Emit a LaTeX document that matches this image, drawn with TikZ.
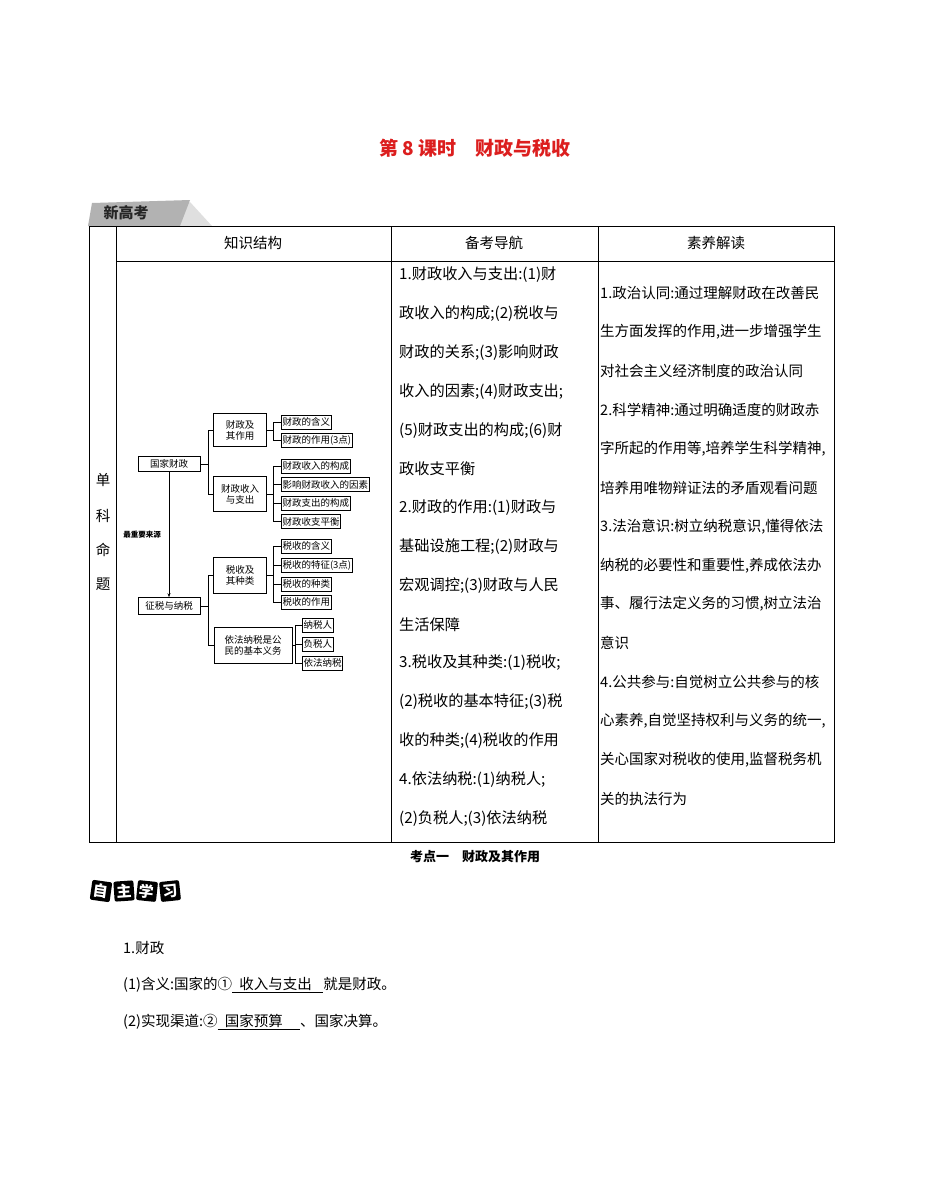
\documentclass[tikz,border=0pt]{standalone}
\usepackage{fontspec}
\newfontfamily\cjk{Noto Sans CJK SC}
\usetikzlibrary{arrows.meta}
\begin{document}
\begin{tikzpicture}[x=1pt,y=-1pt,
 mm/.style={draw,line width=0.6pt,font=\cjk\fontsize{9.5}{11}\selectfont,inner sep=1pt,align=center},
 lf/.style={mm,anchor=west,minimum height=14pt,inner xsep=1.2pt},
 txt/.style={anchor=west,inner sep=0pt,font=\cjk\fontsize{14.5}{16}\selectfont},
 txtb/.style={txt,font=\cjk\fontsize{15.2}{16}\selectfont},
 hd/.style={inner sep=0pt,font=\cjk\fontsize{14.5}{16}\selectfont},
 ln/.style={line width=0.6pt}]
\useasboundingbox (0,0) rectangle (950,1178);
\fill[white] (0,0) rectangle (950,1178);
% title
\node[font=\cjk\bfseries\fontsize{19}{22}\selectfont,text={rgb,255:red,220;green,30;blue,30}] (title) at (475,148) {第 8 课时\quad 财政与税收};
% tab
\fill[gray!25] (150,226) -- (190,202) -- (212,226) -- cycle;
\fill[gray!60] (88,226) -- (92,203) -- (190,200) -- (180,226) -- cycle;
\node[font=\cjk\bfseries\fontsize{15}{16}\selectfont,text=black!85] (tab) at (126,213) {新高考};
% table
\draw[line width=0.9pt] (89,226) rectangle (834,842);
\draw[ln] (116,226) -- (116,842) (391,226) -- (391,842) (598,226) -- (598,842) (116,261) -- (834,261);
\node[hd] (h1) at (253,243) {知识结构};
\node[hd] (h2) at (494,243) {备考导航};
\node[hd] (h3) at (716,243) {素养解读};
\foreach \c/\y in {单/480,科/516,命/550,题/584}{\node[hd] at (103,\y) {\c};}
% mind map
\node[mm,minimum width=62pt,minimum height=15pt] (gj) at (169,464) {国家财政};
\node[mm,minimum width=62pt,minimum height=17pt] (zs) at (169,606) {征税与纳税};
\node[mm,minimum width=53pt,minimum height=33pt] (a1) at (240,430) {财政及\\其作用};
\node[mm,minimum width=53pt,minimum height=35pt] (a2) at (240,494) {财政收入\\与支出};
\node[mm,minimum width=53pt,minimum height=36pt] (a3) at (240,575) {税收及\\其种类};
\node[mm,minimum width=78pt,minimum height=36pt] (a4) at (253,645) {依法纳税是公\\民的基本义务};
\node[lf] (b1) at (281,422) {财政的含义};
\node[lf] (b2) at (281,440) {财政的作用(3点)};
\node[lf] (b3) at (281,466) {财政收入的构成};
\node[lf] (b4) at (281,484.5) {影响财政收入的因素};
\node[lf] (b5) at (281,503) {财政支出的构成};
\node[lf] (b6) at (281,521.5) {财政收支平衡};
\node[lf] (b7) at (281,546) {税收的含义};
\node[lf] (b8) at (281,565) {税收的特征(3点)};
\node[lf] (b9) at (281,584) {税收的种类};
\node[lf] (b10) at (281,602) {税收的作用};
\node[lf] (c1) at (302,625) {纳税人};
\node[lf] (c2) at (302,644) {负税人};
\node[lf] (c3) at (302,663) {依法纳税};
\draw[ln] (gj.east) -- ++(8,0) |- (a1.west);
\draw[ln] (gj.east) ++(8,0) |- (a2.west);
\draw[ln] (zs.east) -- ++(8,0) |- (a3.west);
\draw[ln] (zs.east) ++(8,0) |- (a4.west);
\draw[ln] (a1.east) -- ++(6,0) |- (b1.west);
\draw[ln] (a1.east) ++(6,0) |- (b2.west);
\foreach \b in {b3,b4,b5,b6}{\draw[ln] (a2.east) -- ++(6,0) |- (\b.west);}
\foreach \b in {b7,b8,b9,b10}{\draw[ln] (a3.east) -- ++(6,0) |- (\b.west);}
\foreach \b in {c1,c2,c3}{\draw[ln] (a4.east) -- ++(3,0) |- (\b.west);}
\draw[ln,-{Stealth[length=4pt,width=3pt]}] (gj.south) -- (zs.north);
\node[font=\cjk\bfseries\fontsize{7.5}{8}\selectfont] (src) at (142,535) {最重要来源};
% column 2
\foreach \t [count=\i from 0] in {1.财政收入与支出:(1)财,政收入的构成;(2)税收与,财政的关系;(3)影响财政,收入的因素;(4)财政支出;,(5)财政支出的构成;(6)财,政收支平衡,2.财政的作用:(1)财政与,基础设施工程;(2)财政与,宏观调控;(3)财政与人民,生活保障,3.税收及其种类:(1)税收;,(2)税收的基本特征;(3)税,收的种类;(4)税收的作用,4.依法纳税:(1)纳税人;,(2)负税人;(3)依法纳税}
 {\node[txtb] at (399,275+38.8*\i) {\t};}
% column 3
\foreach \t [count=\i from 0] in {1.政治认同:通过理解财政在改善民,生方面发挥的作用{,}进一步增强学生,对社会主义经济制度的政治认同,2.科学精神:通过明确适度的财政赤,字所起的作用等{,}培养学生科学精神{,},培养用唯物辩证法的矛盾观看问题,3.法治意识:树立纳税意识{,}懂得依法,纳税的必要性和重要性{,}养成依法办,事、履行法定义务的习惯{,}树立法治,意识,4.公共参与:自觉树立公共参与的核,心素养{,}自觉坚持权利与义务的统一{,},关心国家对税收的使用{,}监督税务机,关的执法行为}
 {\node[txt] at (600,293+38.9*\i) {\t};}
\node[font=\cjk\bfseries\fontsize{13}{15}\selectfont] (kd) at (475,857) {考点一\quad 财政及其作用};
% badge
\foreach \c/\x/\r in {自/101/-8,主/124/4,学/147/-6,习/170/6}{
 \node[fill=black,text=white,rounded corners=2pt,rotate=\r,minimum size=20pt,inner sep=0pt,font=\cjk\bfseries\fontsize{15}{16}\selectfont] at (\x,891) {\c};}
% bottom text
\node[txt] (p1) at (123,948) {1.财政};
\node[txt] (p2) at (123,985) {(1)含义:国家的①\underline{\hspace{0.5em}收入与支出\hspace{0.8em}}就是财政。};
\node[txt] (p3) at (123,1022) {(2)实现渠道:②\underline{\hspace{0.5em}国家预算\hspace{1.2em}}、国家决算。};
\end{tikzpicture}
\end{document}
